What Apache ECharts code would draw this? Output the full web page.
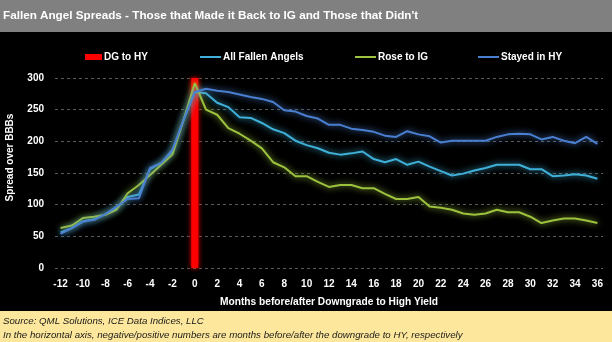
<!DOCTYPE html>
<html>
<head>
<meta charset="utf-8">
<script src="https://cdn.jsdelivr.net/npm/echarts@6/dist/echarts.min.js"></script>
<style>html,body{margin:0;padding:0;background:#000;}#c{width:612px;height:342px;}</style>
</head>
<body>
<div id="c"></div>
<script>
const months = [-12,-11,-10,-9,-8,-7,-6,-5,-4,-3,-2,-1,0,1,2,3,4,5,6,7,8,9,10,11,12,13,14,15,16,17,18,19,20,21,22,23,24,25,26,27,28,29,30,31,32,33,34,35,36];
const dgMonth = 0;
const dgValue = 300;
const allFallenAngels = [56,63,74,77,85,94,112,116,156,166,184,234,278,276,261,254,238,237,229,219,213,201,194,189,182,179,181,184,172,167,172,163,168,160,153,146,149,154,158,163,163,163,156,156,145,146,148,146,141];
const roseToIG = [63,67,79,81,84,92,118,131,147,163,179,234,292,250,242,221,212,201,189,167,159,145,145,136,128,131,131,126,126,117,109,109,112,97,95,92,86,84,86,92,88,88,81,71,75,78,78,75,71];
const stayedInHY = [54,63,73,76,85,97,109,110,158,166,187,234,278,283,280,278,274,270,267,262,249,247,240,236,226,226,220,218,215,209,207,216,211,208,198,201,201,201,201,207,211,212,211,203,207,201,197,207,196];
const yTicks = {min: 0, max: 300, interval: 50};

const FONT = "'Liberation Sans Narrow','Arial Narrow','Liberation Sans',Arial,sans-serif";
const C_RED = '#ff0000', C_CYAN = '#3fb0d8', C_GREEN = '#9cc23e', C_BLUE = '#4a7fd0';

const chart = echarts.init(document.getElementById('c'), null, {renderer: 'canvas'});
function lineSeries(name, data, color) {
  return {
    name, type: 'line', data, symbol: 'none', smooth: false,
    lineStyle: {color, width: 2, shadowColor: color, shadowBlur: 6},
    itemStyle: {color}, z: 3
  };
}
function legendItem(name, left, icon, w, h) {
  return {
    data: [name], left, top: 47, icon, itemWidth: w, itemHeight: h,
    textStyle: {color: '#fff', fontFamily: FONT, fontWeight: 'bold', fontSize: 10, padding: [0,0,0,-3]}
  };
}
chart.setOption({
  backgroundColor: '#000',
  animation: false,
  title: {
    text: "Fallen Angel Spreads - Those that Made it Back to IG and Those that Didn't",
    left: 0, top: 10, padding: [0,0,0,3],
    textStyle: {color: '#fff', fontFamily: FONT, fontWeight: 'bold', fontSize: 11.7}
  },
  graphic: [
    {type: 'rect', left: 0, top: 0, z: -10, shape: {width: 612, height: 32}, style: {fill: '#808080'}},
    {type: 'rect', left: 0, top: 311, z: -10, shape: {width: 612, height: 31}, style: {fill: '#fde79c'}},
    {type: 'text', left: 3, top: 316, style: {text: 'Source: QML Solutions, ICE Data Indices, LLC', fill: '#1a1a1a', font: "italic 9.7px " + FONT}},
    {type: 'text', left: 3, top: 330, style: {text: 'In the horizontal axis, negative/positive numbers are months before/after the downgrade to HY, respectively', fill: '#1a1a1a', font: "italic 9.7px " + FONT}}
  ],
  legend: [
    legendItem('DG to HY', 80, 'rect', 17, 6),
    legendItem('All Fallen Angels', 195, 'rect', 21, 2),
    legendItem('Rose to IG', 350, 'rect', 21, 2),
    legendItem('Stayed in HY', 473, 'rect', 21, 2)
  ],
  grid: {left: 55, right: 9, top: 78, bottom: 74, containLabel: false, outerBoundsMode: 'none'},
  xAxis: {
    type: 'category', data: months, boundaryGap: true,
    axisLine: {show: false}, axisTick: {show: false},
    axisLabel: {interval: 1, color: '#fff', fontFamily: FONT, fontWeight: 'bold', fontSize: 10, margin: 11},
    name: 'Months before/after Downgrade to High Yield', nameLocation: 'middle', nameGap: 29,
    nameTextStyle: {color: '#fff', fontFamily: FONT, fontWeight: 'bold', fontSize: 10.2}
  },
  yAxis: {
    type: 'value', min: yTicks.min, max: yTicks.max, interval: yTicks.interval,
    axisLine: {show: false}, axisTick: {show: false},
    splitLine: {lineStyle: {color: '#5a5a5a', type: [3, 3], width: 1}},
    axisLabel: {color: '#fff', fontFamily: FONT, fontWeight: 'bold', fontSize: 10, margin: 11},
    name: 'Spread over BBBs', nameLocation: 'middle', nameGap: 40,
    nameTextStyle: {color: '#fff', fontFamily: FONT, fontWeight: 'bold', fontSize: 10, padding: [0,0,0,31]}
  },
  series: [
    {
      name: 'DG to HY', type: 'bar', barWidth: 7, z: 2,
      data: months.map(m => m === dgMonth ? dgValue : null),
      itemStyle: {color: C_RED, shadowColor: C_RED, shadowBlur: 5}
    },
    lineSeries('All Fallen Angels', allFallenAngels, C_CYAN),
    lineSeries('Rose to IG', roseToIG, C_GREEN),
    lineSeries('Stayed in HY', stayedInHY, C_BLUE)
  ]
});
</script>
</body>
</html>
